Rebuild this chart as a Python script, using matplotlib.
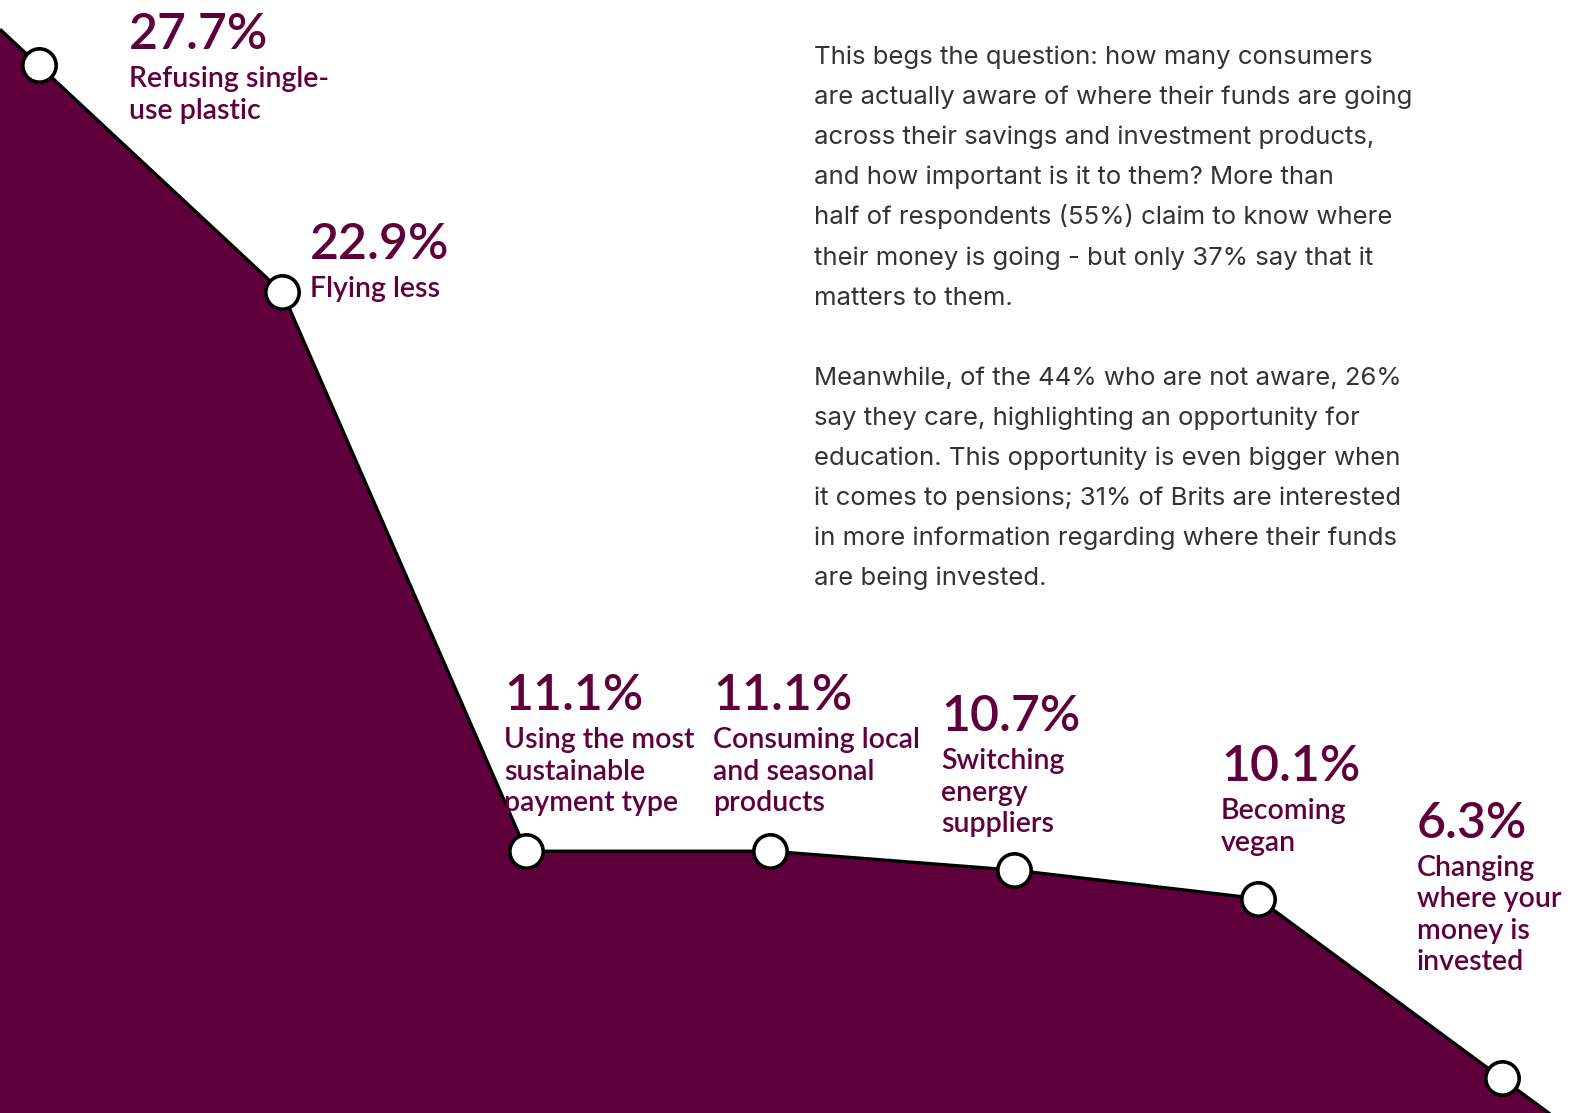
import matplotlib
matplotlib.use("Agg")
import matplotlib.pyplot as plt
import numpy as np

# data
values = [27.7, 22.9, 11.1, 11.1, 10.7, 10.1, 6.3]
categories = ["Refusing single-\nuse plastic",
              "Flying less",
              "Using the most\nsustainable\npayment type",
              "Consuming local\nand seasonal\nproducts",
              "Switching\nenergy\nsuppliers",
              "Becoming\nvegan",
              "Changing\nwhere your\nmoney is\ninvested"]
body = ("This begs the question: how many consumers\n"
        "are actually aware of where their funds are going\n"
        "across their savings and investment products,\n"
        "and how important is it to them? More than\n"
        "half of respondents (55%) claim to know where\n"
        "their money is going - but only 37% say that it\n"
        "matters to them.\n"
        "\n"
        "Meanwhile, of the 44% who are not aware, 26%\n"
        "say they care, highlighting an opportunity for\n"
        "education. This opportunity is even bigger when\n"
        "it comes to pensions; 31% of Brits are interested\n"
        "in more information regarding where their funds\n"
        "are being invested.")

# layout (pixels, from top-left)
W, H = 1587, 1113
label_pos = [(129, 49), (310, 259), (504, 710), (713, 710),
             (941, 731), (1221, 781), (1417, 838)]
body_pos = (814, 64)
body_step = 40.1
cat_gap = 38
cat_step = 31.5

purple = "#5f003c"
label_font = "Lato"
body_font = "Inter"

fig = plt.figure(figsize=(W / 100, H / 100), dpi=100)
ax = fig.add_axes([0, 0, 1, 1])
ax.axis("off")

x = np.arange(len(values))
y = np.array(values)
x0, x1 = -0.158, 6.349
y0, y1 = 5.571, 29.077
ax.set_xlim(x0, x1)
ax.set_ylim(y0, y1)

# extend the line to the edges along the end segments
left = y[0] + (y[0] - y[1]) * (x[0] - x0)
right = y[-1] - (y[-2] - y[-1]) * (x1 - x[-1])
xs = np.concatenate([[x0], x, [x1]])
ys = np.concatenate([[left], y, [right]])

ax.fill_between(xs, ys, y0 - 5, color=purple, lw=0, zorder=1)
ax.plot(xs, ys, color="black", lw=2.4, zorder=2, solid_capstyle="butt")
ax.plot(x, y, "o", ms=24, mfc="white", mec="black", mew=2.6, zorder=3)


def px(xp, yp):
    return xp / W, 1 - yp / H


for v, cat, (lx, ly) in zip(values, categories, label_pos):
    fig.text(*px(lx, ly), f"{v:.1f}%", color=purple, fontsize=36,
             family=label_font, weight="semibold", va="baseline", ha="left")
    for i, line in enumerate(cat.split("\n")):
        fig.text(*px(lx, ly + cat_gap + i * cat_step), line, color=purple,
                 fontsize=20.5, family=label_font, weight="semibold",
                 va="baseline", ha="left")

for i, line in enumerate(body.split("\n")):
    if line:
        fig.text(*px(body_pos[0], body_pos[1] + i * body_step), line,
                 color="#333333", fontsize=18.5, family=body_font,
                 va="baseline", ha="left")

fig.savefig("out.png", dpi=100)
